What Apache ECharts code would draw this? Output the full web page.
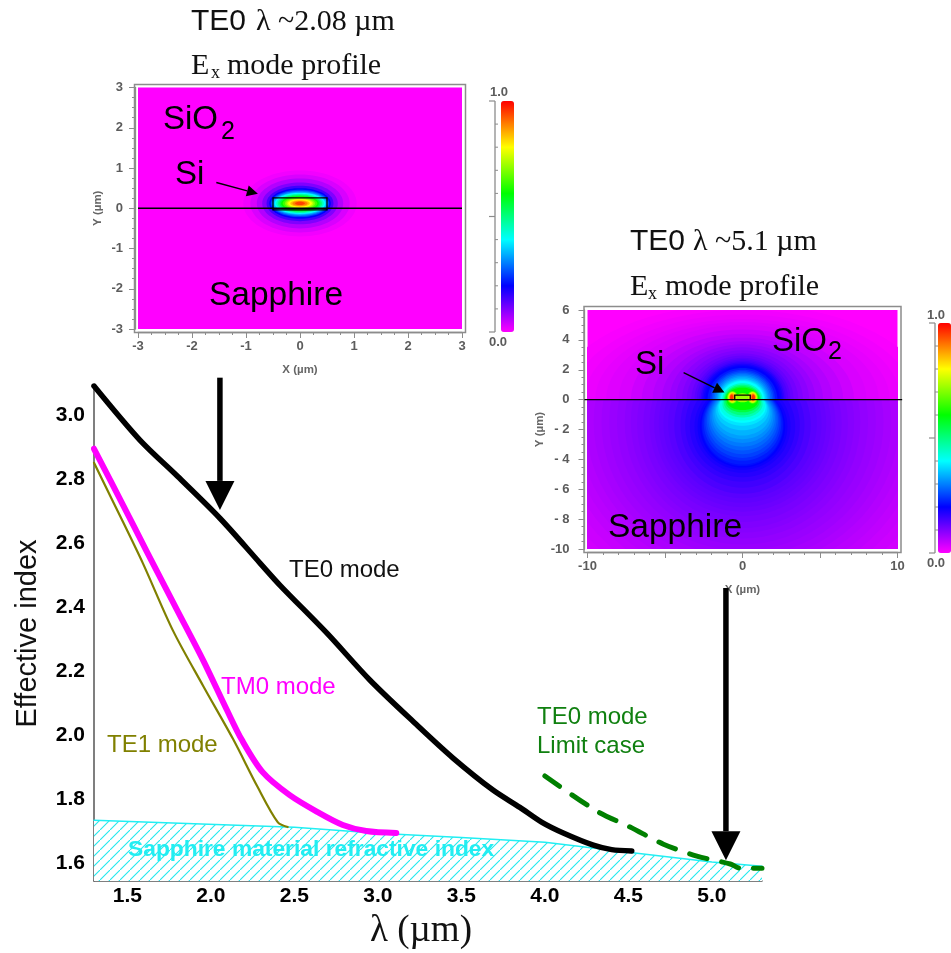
<!DOCTYPE html>
<html><head><meta charset="utf-8">
<style>html,body{margin:0;padding:0;background:#fff;overflow:hidden}#c{width:951px;height:953px;filter:blur(0.45px)}</style>
<script src="https://cdn.jsdelivr.net/npm/echarts@6/dist/echarts.min.js"></script>
</head><body><div id="c"></div>
<script>
// ---------- main chart values: [wavelength um, effective index]
const xTickValues = [1.5, 2.0, 2.5, 3.0, 3.5, 4.0, 4.5, 5.0];
const yTickValues = [1.6, 1.8, 2.0, 2.2, 2.4, 2.6, 2.8, 3.0];
const te0Mode = [[1.30,3.09],[1.575,2.921],[1.80,2.808],[2.054,2.677],[2.294,2.537],[2.414,2.4675],[2.695,2.318],[2.953,2.171],[3.234,2.031],[3.45,1.928],[3.689,1.828],[3.85,1.774],[3.98,1.728],[4.11,1.694],[4.29,1.656],[4.40,1.642],[4.52,1.638]];
const tm0Mode = [[1.30,2.894],[1.474,2.718],[1.617,2.572],[1.797,2.391],[1.953,2.234],[2.096,2.078],[2.186,1.984],[2.31,1.884],[2.47,1.813],[2.64,1.759],[2.79,1.719],[2.93,1.70],[3.11,1.694]];
const te1Mode = [[1.30,2.85],[1.474,2.665],[1.593,2.536],[1.773,2.326],[1.953,2.154],[2.132,1.988],[2.28,1.8375],[2.40,1.728],[2.46,1.7125]];
const te0Limit = [[4.00,1.872],[4.31,1.7625],[4.51,1.7125],[4.71,1.659],[4.91,1.622],[5.11,1.597],[5.17,1.584],[5.30,1.584]];
const sapphireIndex = [[1.30,1.734],[2.50,1.712],[3.00,1.693],[3.50,1.68],[4.00,1.665],[4.50,1.634],[5.00,1.603],[5.30,1.59]];
// arrows from the insets down to the curve: [x from, y from, x to, y to]
const modeArrows = [[2.054,3.116,2.054,2.703],[5.084,2.459,5.084,1.609]];

// ---------- TE0 at 2.08 um, contours of |Ex|: [level, cx, cy, rx, ry] (um)
const spot208 = [[0.01,0,0.12,1.05,0.82],[0.03,0,0.12,0.92,0.72],[0.06,0,0.12,0.80,0.62],[0.10,0,0.12,0.70,0.52],[0.15,0,0.12,0.62,0.44],[0.20,0,0.12,0.57,0.38],[0.25,0,0.12,0.54,0.34],[0.30,0,0.12,0.52,0.31],[0.35,0,0.12,0.50,0.28],[0.40,0,0.12,0.47,0.26],[0.45,0,0.12,0.44,0.24],[0.50,0,0.12,0.41,0.22],[0.55,0,0.12,0.38,0.20],[0.60,0,0.12,0.35,0.18],[0.65,0,0.12,0.32,0.16],[0.70,0,0.12,0.28,0.14],[0.75,0,0.12,0.25,0.12],[0.80,0,0.12,0.22,0.10],[0.85,0,0.12,0.18,0.08],[0.90,0,0.12,0.14,0.06],[0.95,0,0.12,0.09,0.04]];
const interface208 = [[-3,0,3,0]];
const waveguide208 = [[-0.5,-0.04,0.5,0.26]];
const pointer208 = [[-1.55,0.64,-0.78,0.36]];

// ---------- TE0 at 5.1 um, contours in the sapphire (y<0)
const field51Lower = [[0.03,0,-1.5,14,13.5],[0.035,0,-1.5,13.4,12.9],[0.04,0,-1.5,12.8,12.3],[0.045,0,-1.5,12.2,11.7],[0.05,0,-1.5,11.6,11.2],[0.055,0,-1.5,11.1,10.7],[0.06,0,-1.5,10.6,10.2],[0.065,0,-1.5,10.1,9.8],[0.07,0,-1.5,9.6,9.4],[0.075,0,-1.5,9.1,9.0],[0.08,0,-1.5,8.6,8.6],[0.085,0,-1.5,8.1,8.2],[0.09,0,-1.5,7.6,7.8],[0.095,0,-1.5,7.2,7.4],[0.10,0,-1.6,6.8,7.0],[0.105,0,-1.6,6.4,6.6],[0.11,0,-1.6,6.0,6.2],[0.115,0,-1.6,5.7,5.9],[0.12,0,-1.6,5.4,5.6],[0.125,0,-1.6,5.1,5.3],[0.13,0,-1.6,4.8,5.0],[0.14,0,-1.7,4.4,4.6],[0.15,0,-1.7,4.0,4.2],[0.16,0,-1.7,3.7,3.8],[0.17,0,-1.8,3.4,3.4],[0.18,0,-1.8,3.1,3.1],[0.19,0,-1.8,2.9,2.9],[0.20,0,-1.8,2.75,2.75],[0.21,0,-1.7,2.65,2.75],[0.22,0,-1.7,2.6,2.65],[0.235,0,-1.6,2.5,2.5],[0.25,0,-1.5,2.4,2.4],[0.265,0,-1.4,2.3,2.25],[0.28,0,-1.3,2.2,2.1],[0.295,0,-1.2,2.1,1.95],[0.31,0,-1.1,2.0,1.8],[0.325,0,-1.0,1.9,1.65],[0.34,0,-0.9,1.8,1.5],[0.36,0,-0.75,1.7,1.3],[0.38,0,-0.6,1.6,1.15],[0.40,0,-0.5,1.5,1.05],[0.42,0,-0.4,1.45,1.0],[0.46,0,-0.3,1.3,0.9],[0.50,0,-0.2,1.2,0.85],[0.55,0,-0.15,1.1,0.7],[0.60,0,-0.1,1.0,0.6]];
// contours in the oxide (y>0)
const field51Upper = [[0.005,0,0,12,6.4],[0.01,0,0,11,6],[0.015,0,0,10.2,5.7],[0.02,0,0,9.5,5.4],[0.025,0,0,8.8,5.2],[0.03,0,0,8,5],[0.04,0,0,7.2,4.7],[0.05,0,0,6.5,4.4],[0.06,0,0,5.8,4.15],[0.07,0,0,5.2,3.9],[0.08,0,0,4.7,3.7],[0.09,0,0,4.3,3.5],[0.10,0,0,3.9,3.3],[0.11,0,0,3.6,3.1],[0.12,0,0,3.3,2.95],[0.13,0,0,3.1,2.8],[0.14,0,0,2.95,2.7],[0.15,0,0,2.8,2.6],[0.165,0,0,2.7,2.5],[0.18,0,0,2.6,2.4],[0.19,0,0,2.5,2.32],[0.20,0,0,2.4,2.25],[0.22,0,0,2.25,2.12],[0.24,0,0,2.1,2.0],[0.26,0,0,2.0,1.9],[0.28,0,0,1.9,1.8],[0.30,0,0,1.8,1.7],[0.32,0,0,1.7,1.6],[0.34,0,0,1.62,1.5],[0.36,0,0,1.55,1.4],[0.38,0,0,1.47,1.32],[0.40,0,0,1.4,1.25],[0.45,0,0,1.3,1.1],[0.50,0,0,1.2,1.0],[0.55,0,0,1.15,0.9],[0.60,0,0,1.1,0.8]];
// hot lobes at the waveguide corners
const field51Lobes = [[0.66,-0.65,0.15,0.35,0.42],[0.66,0.65,0.15,0.35,0.42],[0.72,0,0.12,0.5,0.3],[0.72,-0.65,0.15,0.3,0.38],[0.72,0.65,0.15,0.3,0.38],[0.78,-0.65,0.15,0.26,0.34],[0.78,0.65,0.15,0.26,0.34],[0.84,-0.67,0.15,0.21,0.29],[0.84,0.67,0.15,0.21,0.29],[0.90,-0.68,0.15,0.16,0.24],[0.90,0.68,0.15,0.16,0.24],[0.96,-0.7,0.15,0.1,0.18],[0.96,0.7,0.15,0.1,0.18]];
const interface51 = [[-10.2,0,10.3,0]];
const waveguide51 = [[-0.5,0,0.5,0.3]];
const pointer51 = [[-3.8,1.8,-1.16,0.47]];

const colorScale = ['#ff00ff','#0000ff','#00ffff','#00ff00','#ffff00','#ff0000'];
const colorbarMinor = [0.1,0.2,0.3,0.4,0.6,0.7,0.8,0.9];
const colorbarMajor = [0,0.5,1];

const SANS = '"Liberation Sans", Arial, sans-serif', SERIF = '"Liberation Serif", "Times New Roman", serif';

function contours(clamp){
  return function(params, api){
    const v=[api.value(1),api.value(2),api.value(3),api.value(4)], pts=[];
    for(let i=0;i<72;i++){
      const a=i/72*Math.PI*2; let y=v[1]+v[3]*Math.sin(a);
      if(clamp==='up') y=Math.max(y,0);
      if(clamp==='down') y=Math.min(y,0);
      pts.push(api.coord([v[0]+v[2]*Math.cos(a),y]));
    }
    return {type:'polygon',shape:{points:pts},style:{fill:api.visual('color'),stroke:null}};
  };
}
function arrow(shaft,headLen,headW){
  return function(params,api){
    const a=api.coord([api.value(0),api.value(1)]), b=api.coord([api.value(2),api.value(3)]);
    const dx=b[0]-a[0],dy=b[1]-a[1],l=Math.hypot(dx,dy),ux=dx/l,uy=dy/l,nx=-uy,ny=ux;
    const h=[b[0]-ux*headLen,b[1]-uy*headLen];
    return {type:'group',children:[
      {type:'line',shape:{x1:a[0],y1:a[1],x2:h[0],y2:h[1]},style:{stroke:'#000',lineWidth:shaft}},
      {type:'polygon',shape:{points:[b,[h[0]+nx*headW/2,h[1]+ny*headW/2],[h[0]-nx*headW/2,h[1]-ny*headW/2]]},style:{fill:'#000'}}
    ]};
  };
}
function boxRender(params,api){
  const a=api.coord([api.value(0),api.value(1)]), b=api.coord([api.value(2),api.value(3)]);
  return {type:'rect',shape:{x:Math.min(a[0],b[0]),y:Math.min(a[1],b[1]),width:Math.abs(b[0]-a[0]),height:Math.abs(b[1]-a[1])},style:{fill:null,stroke:'#000',lineWidth:1.3}};
}
function lineRender(params,api){
  const a=api.coord([api.value(0),api.value(1)]), b=api.coord([api.value(2),api.value(3)]);
  return {type:'line',shape:{x1:a[0],y1:a[1],x2:b[0],y2:b[1]},style:{stroke:'#000',lineWidth:1.4}};
}
function custom(xi,data,render,clip,z){
  return {type:'custom',xAxisIndex:xi,yAxisIndex:xi,data:data,renderItem:render,clip:clip,z:z,silent:true,encode:{x:1,y:2}};
}
function curve(name,data,color,width,extra){
  return Object.assign({type:'line',name:name,data:data,xAxisIndex:0,yAxisIndex:0,showSymbol:false,symbol:'none',smooth:0.3,
    lineStyle:{color:color,width:width,cap:'round',join:'round'},silent:true,z:3},extra||{});
}
function hatch(){
  const s=10,c=document.createElement('canvas');c.width=s;c.height=s;
  const g=c.getContext('2d');g.fillStyle='#fff';g.fillRect(0,0,s,s);g.strokeStyle='#20e8ee';g.lineWidth=1.1;
  g.beginPath();g.moveTo(-1,s+1);g.lineTo(s+1,-1);g.stroke();
  return c;
}
function T(text,x,y,size,color,font,weight,align){
  return {type:'text',x:x,y:y,z:20,silent:true,style:{text:text,fill:color,font:(weight||'normal')+' '+size+'px '+(font||SANS),
    textAlign:align||'left',textVerticalAlign:'middle',align:align||'left',verticalAlign:'middle'}};
}
function frame(x,y,w,h){
  return {type:'rect',z:1,silent:true,shape:{x:x,y:y,width:w,height:h},style:{fill:null,stroke:'#8c8c8c',lineWidth:1.5}};
}
function colorbarAxis(x,top,h){
  const out=[{type:'line',z:1,silent:true,shape:{x1:x,y1:top,x2:x,y2:top+h},style:{stroke:'#8c8c8c',lineWidth:1.3}}];
  colorbarMajor.forEach(v=>out.push({type:'line',z:1,silent:true,shape:{x1:x-6,y1:top+h*(1-v),x2:x,y2:top+h*(1-v)},style:{stroke:'#8c8c8c',lineWidth:1.2}}));
  colorbarMinor.forEach(v=>out.push({type:'line',z:1,silent:true,shape:{x1:x,y1:top+h*(1-v),x2:x+3,y2:top+h*(1-v)},style:{stroke:'#8c8c8c',lineWidth:1}}));
  return out;
}
const insetLine={show:true,onZero:false,lineStyle:{color:'#8c8c8c',width:1.3}};
function insetAxis(grid,min,max,interval,splits,pos,name,gap,labelVals,fmt,margin){
  return {type:'value',gridIndex:grid,position:pos,min:min,max:max,interval:interval,offset:3,
    axisLine:insetLine,splitLine:{show:false},
    axisTick:{show:true,length:6,inside:false,lineStyle:{color:'#8c8c8c',width:1}},
    minorTick:{show:true,splitNumber:splits,length:3,lineStyle:{color:'#8c8c8c'}},
    axisLabel:{color:'#5c5c5c',fontFamily:SANS,fontSize:13,fontWeight:'bold',margin:margin,customValues:labelVals,formatter:fmt},
    name:name,nameLocation:'middle',nameGap:gap,nameTextStyle:{color:'#666',fontFamily:SANS,fontSize:11.5,fontWeight:'bold'}};
}
const dashFmt=v=>v<0?(v===-10?'-10':'- '+Math.abs(v)):String(v);

const option={
  animation:false,backgroundColor:'#fff',
  grid:[
    {left:94,top:386,width:668,height:495,outerBoundsMode:'none'},
    {left:138,top:87.5,width:324,height:241.5,show:true,backgroundColor:'#ff00ff',borderWidth:0,outerBoundsMode:'none'},
    {left:587.5,top:310,width:310,height:239,show:true,backgroundColor:'#ff00ff',borderWidth:0,outerBoundsMode:'none'}
  ],
  xAxis:[
    {type:'value',gridIndex:0,min:1.3,max:5.3,axisLine:{show:true,onZero:false,lineStyle:{color:'#555',width:1.5}},axisTick:{show:false},splitLine:{show:false},
     axisLabel:{customValues:xTickValues,formatter:v=>v.toFixed(1),color:'#000',fontFamily:SANS,fontSize:21,fontWeight:'bold',margin:5},
     name:'λ (µm)',nameLocation:'middle',nameGap:32,nameTextStyle:{color:'#111',fontFamily:SERIF,fontSize:37,padding:[0,14,0,0]}},
    insetAxis(1,-3,3,1,4,'bottom','X (µm)',32,[-3,-2,-1,0,1,2,3],v=>String(v),8),
    insetAxis(2,-10,10,5,5,'bottom','X (µm)',32,[-10,0,10],v=>String(v),8)
  ],
  yAxis:[
    {type:'value',gridIndex:0,min:1.544,max:3.09,axisLine:{show:true,onZero:false,lineStyle:{color:'#555',width:1.5}},axisTick:{show:false},splitLine:{show:false},
     axisLabel:{customValues:yTickValues,formatter:v=>v.toFixed(1),color:'#000',fontFamily:SANS,fontSize:21,fontWeight:'bold',margin:9},
     name:'Effective index',nameLocation:'middle',nameGap:52,nameTextStyle:{color:'#111',fontFamily:SANS,fontSize:29}},
    insetAxis(1,-3,3,1,4,'left','Y (µm)',31,[-3,-2,-1,0,1,2,3],v=>String(v),12),
    insetAxis(2,-10,6,2,4,'left','Y (µm)',39,[-10,-8,-6,-4,-2,0,2,4,6],dashFmt,15)
  ],
  visualMap:[
    {type:'continuous',min:0,max:1,dimension:0,seriesIndex:[6],inRange:{color:colorScale},left:501,top:101,padding:0,itemWidth:13,itemHeight:231,calculable:false,realtime:false,hoverLink:false,textStyle:{fontSize:0}},
    {type:'continuous',min:0,max:1,dimension:0,seriesIndex:[9,10,11],inRange:{color:colorScale},left:938,top:323,padding:0,itemWidth:13,itemHeight:230,calculable:false,realtime:false,hoverLink:false,textStyle:{fontSize:0}}
  ],
  series:[
    curve('Sapphire material refractive index',sapphireIndex,'#22eef2',1.5,{smooth:false,z:2,areaStyle:{color:{image:hatch(),repeat:'repeat'},opacity:1,origin:'start'}}),
    curve('TE1 mode',te1Mode,'#808000',2.2),
    curve('TM0 mode',tm0Mode,'#ff00ff',6),
    curve('TE0 mode',te0Mode,'#000000',5.5),
    curve('TE0 mode limit case',te0Limit,'#008000',5,{lineStyle:{color:'#008000',width:5,type:[18,15],cap:'round'}}),
    custom(0,modeArrows,arrow(5.5,29,29),false,15),
    custom(1,spot208,contours(null),true,2),
    custom(1,interface208,lineRender,false,5),
    custom(1,waveguide208,boxRender,false,5),
    custom(2,field51Lower,contours('down'),true,2),
    custom(2,field51Upper,contours('up'),true,2),
    custom(2,field51Lobes,contours(null),true,3),
    custom(2,interface51,lineRender,false,5),
    custom(2,waveguide51,boxRender,false,5),
    custom(1,pointer208,arrow(1.4,11,11),false,6),
    custom(2,pointer51,arrow(1.4,11,11),false,6)
  ],
  graphic:{elements:[
    frame(134.5,84.5,331,248),
    frame(584,306.5,317,246)
  ].concat(colorbarAxis(495,101,231),colorbarAxis(935,323,230),[
    T('1.0',490,92,13,'#5c5c5c',SANS,'bold'),T('0.0',489,342,13,'#5c5c5c',SANS,'bold'),
    T('1.0',927,315,13,'#5c5c5c',SANS,'bold'),T('0.0',927,563,13,'#5c5c5c',SANS,'bold'),
    T('TE0',191,22,30,'#111'),T('λ ~2.08 µm',256,22,30,'#111',SERIF),
    T('E',191,66,30,'#111',SERIF),T('x',211,73,18,'#111',SERIF),T('mode profile',227,66,30,'#111',SERIF),
    T('SiO',163,120,33,'#000'),T('2',221,132,25,'#000'),T('Si',175,175,33,'#000'),T('Sapphire',209,296,33.5,'#000'),
    T('TE0',630,242,30,'#111'),T('λ ~5.1 µm',693,242,30,'#111',SERIF),
    T('E',630,287,30,'#111',SERIF),T('x',648,294,18,'#111',SERIF),T('mode profile',665,287,30,'#111',SERIF),
    T('SiO',772,342,33,'#000'),T('2',828,352,25,'#000'),T('Si',635,365,33,'#000'),T('Sapphire',608,528,33.5,'#000'),
    T('TE0 mode',289,570,24,'#111'),T('TM0 mode',221,687,24,'#ff00ff'),T('TE1 mode',107,745,24,'#808000'),
    T('TE0 mode',537,717,24,'#108010'),T('Limit case',537,746,24,'#108010'),
    T('Sapphire material refractive index',128,850,22.8,'#22eef2',SANS,'bold')
  ])}
};
const chart=echarts.init(document.getElementById('c'),null,{renderer:'canvas',width:951,height:953});
chart.setOption(option);
</script></body></html>
